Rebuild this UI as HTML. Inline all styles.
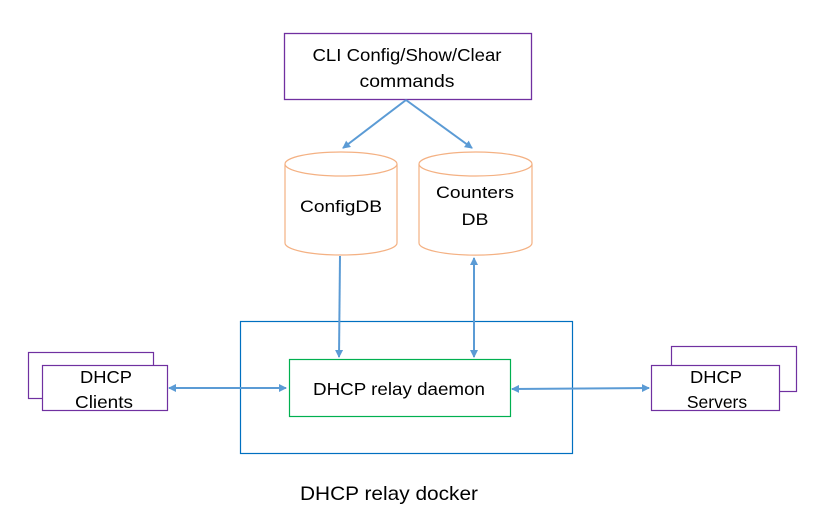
<!DOCTYPE html>
<html><head><style>body{margin:0;background:#fff}svg{display:block}text{font-family:"Liberation Sans",sans-serif;fill:#000}</style></head>
<body>
<svg width="840" height="515" viewBox="0 0 840 515" xmlns="http://www.w3.org/2000/svg">
<defs>
<marker id="a" markerWidth="8" markerHeight="8" refX="7" refY="4" orient="auto-start-reverse" markerUnits="userSpaceOnUse"><path d="M0,0 L8,4 L0,8 z" fill="#5b9bd5"/></marker>
</defs>
<rect x="284.5" y="33.5" width="247" height="66" fill="#fff" stroke="#7030a0" stroke-width="1.3"/>
<text x="407" y="61" font-size="17.5" text-anchor="middle" textLength="189" lengthAdjust="spacingAndGlyphs">CLI Config/Show/Clear</text>
<text x="407" y="87" font-size="17.5" text-anchor="middle" textLength="95" lengthAdjust="spacingAndGlyphs">commands</text>
<g stroke="#5b9bd5" stroke-width="2" fill="none">
<line x1="406" y1="100" x2="343" y2="148" marker-end="url(#a)"/>
<line x1="406" y1="100" x2="472" y2="148" marker-end="url(#a)"/>
</g>
<g fill="#fff" stroke="#f4b183" stroke-width="1.2">
<path d="M285,164 L285,243 A56,12 0 0 0 397,243 L397,164"/>
<ellipse cx="341" cy="164" rx="56" ry="12"/>
<path d="M419,164 L419,243 A56,12 0 0 0 532,243 L532,164"/>
<ellipse cx="475.5" cy="164" rx="56.5" ry="12"/>
</g>
<text x="341" y="212" font-size="16.5" text-anchor="middle" textLength="82" lengthAdjust="spacingAndGlyphs">ConfigDB</text>
<text x="475" y="198" font-size="16.5" text-anchor="middle" textLength="78" lengthAdjust="spacingAndGlyphs">Counters</text>
<text x="475" y="225" font-size="16.5" text-anchor="middle" textLength="27" lengthAdjust="spacingAndGlyphs">DB</text>
<rect x="240.5" y="321.5" width="332" height="132" fill="none" stroke="#0070c0" stroke-width="1.2"/>
<rect x="289.5" y="359.5" width="221" height="57" fill="#fff" stroke="#00b050" stroke-width="1.2"/>
<text x="399" y="395" font-size="17.5" text-anchor="middle" textLength="172" lengthAdjust="spacingAndGlyphs">DHCP relay daemon</text>
<g stroke="#5b9bd5" stroke-width="2" fill="none">
<line x1="340" y1="256" x2="339" y2="357" marker-end="url(#a)"/>
<line x1="474" y1="258" x2="474" y2="357" marker-start="url(#a)" marker-end="url(#a)"/>
<line x1="169" y1="388" x2="286" y2="388" marker-start="url(#a)" marker-end="url(#a)"/>
<line x1="512" y1="389" x2="649" y2="388" marker-start="url(#a)" marker-end="url(#a)"/>
</g>
<rect x="28.5" y="352.5" width="125" height="46" fill="#fff" stroke="#7030a0" stroke-width="1.2"/>
<rect x="42.5" y="365.5" width="125" height="45" fill="#fff" stroke="#7030a0" stroke-width="1.2"/>
<text x="106" y="383" font-size="17.5" text-anchor="middle" textLength="52" lengthAdjust="spacingAndGlyphs">DHCP</text>
<text x="104" y="408" font-size="17.5" text-anchor="middle" textLength="58" lengthAdjust="spacingAndGlyphs">Clients</text>
<rect x="671.5" y="346.5" width="125" height="45" fill="#fff" stroke="#7030a0" stroke-width="1.2"/>
<rect x="651.5" y="365.5" width="128" height="45" fill="#fff" stroke="#7030a0" stroke-width="1.2"/>
<text x="716" y="383" font-size="17.5" text-anchor="middle" textLength="52" lengthAdjust="spacingAndGlyphs">DHCP</text>
<text x="717" y="408" font-size="17.5" text-anchor="middle">Servers</text>
<text x="389" y="500" font-size="19.5" text-anchor="middle" textLength="178" lengthAdjust="spacingAndGlyphs">DHCP relay docker</text>
</svg>
</body></html>
